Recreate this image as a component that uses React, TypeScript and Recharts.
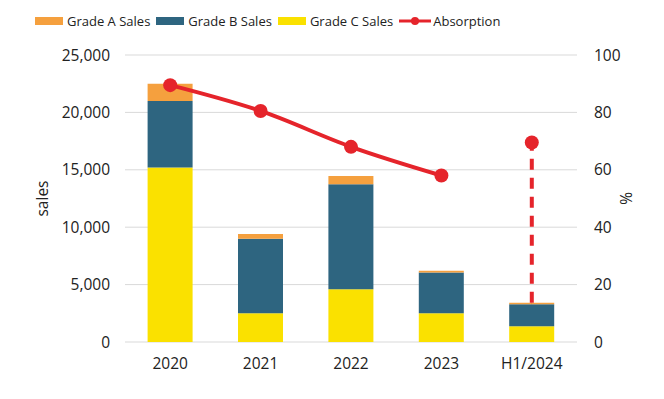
import React from "react";
import {
  ComposedChart,
  Bar,
  Line,
  XAxis,
  YAxis,
  CartesianGrid,
  Legend,
  ErrorBar,
} from "recharts";

const categories = ["2020", "2021", "2022", "2023", "H1/2024"];
const gradeA = [1500, 400, 700, 150, 140];
const gradeB = [5800, 6500, 9150, 3550, 1900];
const gradeC = [15200, 2500, 4600, 2500, 1380];
// solid trend covers full years, the half-year point stands alone
const absorptionYears = [89.5, 80.5, 68, 58, null];
const absorptionH1 = [null, null, null, null, 69.5];
const salesTicks = [0, 5000, 10000, 15000, 20000, 25000];
const pctTicks = [0, 20, 40, 60, 80, 100];

const ORANGE = "#f5a03e";
const TEAL = "#2e6580";
const YELLOW = "#fae100";
const RED = "#e5242b";
const FONT = "'Open Sans', sans-serif";

const SALES_MAX = salesTicks[salesTicks.length - 1];
const PCT_MAX = pctTicks[pctTicks.length - 1];

const data = categories.map((name, i) => {
  const total = gradeA[i] + gradeB[i] + gradeC[i];
  const h1 = absorptionH1[i];
  return {
    name,
    idx: i + 0.5,
    gradeA: gradeA[i],
    gradeB: gradeB[i],
    gradeC: gradeC[i],
    absorption: absorptionYears[i],
    absorptionH1: h1,
    // dashed drop from the point to the bar top
    h1Drop: h1 == null ? [0, 0] : [h1 - (total / SALES_MAX) * PCT_MAX, 0],
  };
});

const legendItems = [
  { label: "Grade A Sales", color: ORANGE, kind: "rect" },
  { label: "Grade B Sales", color: TEAL, kind: "rect" },
  { label: "Grade C Sales", color: YELLOW, kind: "rect" },
  { label: "Absorption", color: RED, kind: "line" },
];

function LegendContent() {
  return (
    <div
      style={{
        display: "flex",
        justifyContent: "flex-start",
        alignItems: "center",
        paddingLeft: 35,
        fontFamily: FONT,
        fontSize: 13,
        color: "#222",
        height: 20,
      }}
    >
      {legendItems.map((item) => (
        <div key={item.label} style={{ display: "flex", alignItems: "center", marginRight: 6 }}>
          {item.kind === "rect" ? (
            <svg width={28} height={10} style={{ marginRight: 4 }}>
              <rect x={0} y={1} width={28} height={8} fill={item.color} />
            </svg>
          ) : (
            <svg width={32} height={10} style={{ marginRight: 2 }}>
              <line x1={0} y1={5} x2={32} y2={5} stroke={item.color} strokeWidth={3} />
              <circle cx={16} cy={5} r={4} fill={item.color} />
            </svg>
          )}
          <span>{item.label}</span>
        </div>
      ))}
    </div>
  );
}

const fmt = (v: number) => v.toLocaleString("en-US");

export default function App() {
  const tickStyle = { fontFamily: FONT, fontSize: 15.5, fill: "#222" };
  return (
    <div style={{ position: "absolute", left: 0, top: 0, width: 664, height: 399, background: "#fff" }}>
      <ComposedChart
        width={664}
        height={399}
        data={data}
        margin={{ top: 35, right: 0, bottom: 27, left: 0 }}
        barCategoryGap="25%"
      >
        <CartesianGrid vertical={false} stroke="#d9d9d9" yAxisId="sales" />
        <XAxis
          dataKey="name"
          xAxisId="cat"
          axisLine={false}
          tickLine={false}
          tick={tickStyle}
          tickMargin={10}
          height={30}
        />
        <XAxis
          xAxisId="frame"
          type="number"
          dataKey="idx"
          domain={[0, categories.length]}
          ticks={[0, 1, 2, 3, 4, 5]}
          tick={{ fill: "none", fontSize: 1 }}
          tickFormatter={() => ""}
          tickLine={{ stroke: "#bfbfbf" }}
          stroke="#bfbfbf"
          tickSize={5}
          height={0}
        />
        <YAxis
          yAxisId="sales"
          width={125}
          domain={[0, SALES_MAX]}
          ticks={salesTicks}
          axisLine={false}
          tickLine={false}
          tick={tickStyle}
          tickMargin={9}
          tickFormatter={fmt}
          label={(p: any) => {
            const vb = p.viewBox;
            const x = vb.x + 42;
            const y = vb.y + vb.height / 2;
            return (
              <text x={x} y={y} transform={`rotate(-90 ${x} ${y})`} textAnchor="middle" dominantBaseline="central" style={tickStyle}>
                sales
              </text>
            );
          }}
        />
        <YAxis
          yAxisId="pct"
          orientation="right"
          width={87}
          domain={[0, PCT_MAX]}
          ticks={pctTicks}
          axisLine={false}
          tickLine={false}
          tick={{ ...tickStyle, textAnchor: "start" }}
          tickMargin={11}
          label={(p: any) => {
            const vb = p.viewBox;
            const x = vb.x + 49;
            const y = vb.y + vb.height / 2;
            return (
              <text x={x} y={y} transform={`rotate(90 ${x} ${y})`} textAnchor="middle" dominantBaseline="central" style={tickStyle}>
                %
              </text>
            );
          }}
        />
        <Legend
          layout="vertical"
          align="center"
          verticalAlign="top"
          content={() => <LegendContent />}
          wrapperStyle={{ top: 11, left: 0, width: 664 }}
        />
        <Bar dataKey="gradeC" name="Grade C Sales" stackId="s" yAxisId="sales" xAxisId="cat" fill={YELLOW} isAnimationActive={false} />
        <Bar dataKey="gradeB" name="Grade B Sales" stackId="s" yAxisId="sales" xAxisId="cat" fill={TEAL} isAnimationActive={false} />
        <Bar dataKey="gradeA" name="Grade A Sales" stackId="s" yAxisId="sales" xAxisId="cat" fill={ORANGE} isAnimationActive={false} />
        <Line
          dataKey="absorption"
          name="Absorption"
          yAxisId="pct"
          xAxisId="cat"
          type="monotone"
          stroke={RED}
          strokeWidth={4}
          dot={{ r: 7, fill: RED, stroke: RED, strokeWidth: 0 }}
          connectNulls={false}
          isAnimationActive={false}
        />
        <Line
          dataKey="absorptionH1"
          yAxisId="pct"
          xAxisId="cat"
          stroke={RED}
          strokeWidth={4}
          dot={{ r: 7, fill: RED, stroke: RED, strokeWidth: 0 }}
          legendType="none"
          isAnimationActive={false}
        >
          <ErrorBar dataKey="h1Drop" direction="y" width={0} stroke={RED} strokeWidth={4} strokeDasharray="11 8" />
        </Line>
      </ComposedChart>
    </div>
  );
}
